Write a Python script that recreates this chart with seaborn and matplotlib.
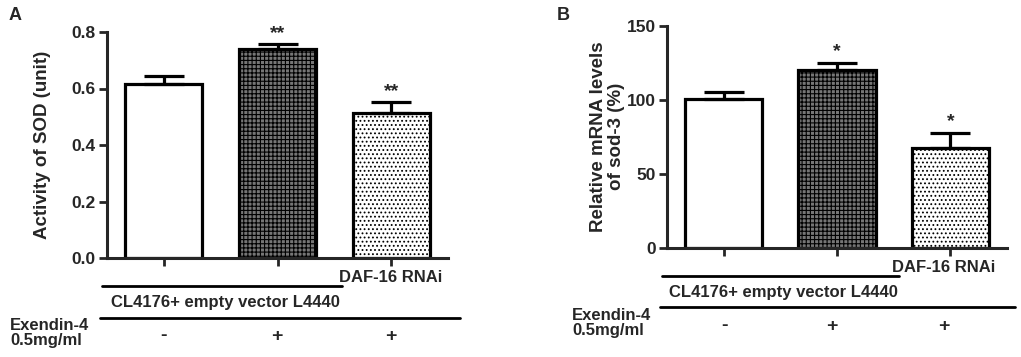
import matplotlib
matplotlib.use("Agg")
import matplotlib.pyplot as plt
from matplotlib.lines import Line2D
import seaborn as sns
import pandas as pd

# ---------------- data ----------------
groups = ["Control", "Exendin-4", "DAF-16 RNAi + Exendin-4"]
sod_mean = [0.617, 0.740, 0.515]
sod_err = [0.027, 0.016, 0.036]
mrna_mean = [100.3, 120.0, 67.7]
mrna_err = [4.8, 5.0, 10.0]
stars_a = ["", "**", "**"]
stars_b = ["", "*", "*"]
exendin_signs = ["-", "+", "+"]
sod_ticks = [0.0, 0.2, 0.4, 0.6, 0.8]
mrna_ticks = [0, 50, 100, 150]

sns.set_theme(style="ticks")
plt.rcParams["font.family"] = ["Liberation Sans", "DejaVu Sans"]
plt.rcParams["font.weight"] = "bold"
plt.rcParams["hatch.linewidth"] = 0.8

W, H = 1021, 357
fig = plt.figure(figsize=(W / 100, H / 100), dpi=100)


def fx(px):
    return px / W


def fy(py):
    return 1 - py / H


face = ["white", "#767676", "white"]
hatches = [None, "++++", "...."]


def panel(rect, means, errs, stars, ticks, ylim, ylabel, fmt, label_x):
    ax = fig.add_axes(rect)
    df = pd.DataFrame({"group": groups, "value": means})
    sns.barplot(data=df, x="group", y="value", hue="group", order=groups,
                hue_order=groups, palette=dict(zip(groups, face)),
                width=0.68, errorbar=None, legend=False, ax=ax, saturation=1)
    for p, fc, h in zip(ax.patches, face, hatches):
        p.set_facecolor(fc)
        p.set_edgecolor("black")
        p.set_linewidth(2.3)
        if h:
            p.set_hatch(h)
    xs = list(range(len(groups)))
    ax.errorbar(xs, means, yerr=[[0] * len(errs), errs], fmt="none",
                ecolor="black", elinewidth=2.3, capsize=14.5, capthick=2.3,
                zorder=1)
    for x, m, e, s in zip(xs, means, errs, stars):
        if s:
            ax.annotate(s, (x, m + e), xytext=(0, 8), textcoords="offset points",
                        ha="center", va="center", fontsize=14,
                        fontweight="bold", annotation_clip=False)
    ax.set_xlim(-0.5, 2.5)
    ax.set_ylim(*ylim)
    ax.set_yticks(ticks)
    ax.set_yticklabels([fmt(t) for t in ticks], fontsize=12.5, fontweight="bold")
    ax.set_xticks(xs)
    ax.set_xticklabels([])
    ax.set_xlabel("")
    ax.set_ylabel(ylabel, fontsize=13.5, fontweight="bold", linespacing=1.05)
    ax.yaxis.set_label_coords(label_x, 0.5)
    for s in ["top", "right"]:
        ax.spines[s].set_visible(False)
    for s in ["left", "bottom"]:
        ax.spines[s].set_linewidth(2.2)
    ax.tick_params(axis="both", width=2.0, length=6, direction="out", pad=2)
    return ax


axA = panel([fx(107), fy(258), fx(448) - fx(107), fy(32) - fy(258)],
            sod_mean, sod_err, stars_a, sod_ticks, (0, 0.8),
            "Activity of SOD (unit)", lambda t: f"{t:.1f}", -0.165)
axB = panel([fx(667), fy(248), fx(1007) - fx(667), fy(25.7) - fy(248)],
            mrna_mean, mrna_err, stars_b, mrna_ticks, (0, 150),
            "Relative mRNA levels\nof sod-3 (%)", lambda t: f"{t:d}", -0.125)

fig.text(fx(15), fy(16), "A", fontsize=13, fontweight="bold", ha="center", va="center")
fig.text(fx(563), fy(15), "B", fontsize=13, fontweight="bold", ha="center", va="center")


def annotations(x_centres, y_daf, short_line, y_short, y_cl, cl_x, long_line,
                y_long, ex_x, y_ex1, y_ex2, y_sign):
    fig.text(fx(x_centres[2]), fy(y_daf), "DAF-16 RNAi", fontsize=12,
             fontweight="bold", ha="center", va="center")
    fig.add_artist(Line2D([fx(short_line[0]), fx(short_line[1])],
                          [fy(y_short), fy(y_short)], color="black", lw=2.0))
    fig.text(fx(cl_x), fy(y_cl), "CL4176+ empty vector L4440", fontsize=12,
             fontweight="bold", ha="center", va="center")
    fig.add_artist(Line2D([fx(long_line[0]), fx(long_line[1])],
                          [fy(y_long), fy(y_long)], color="black", lw=2.0))
    fig.text(fx(ex_x), fy(y_ex1), "Exendin-4", fontsize=12, fontweight="bold",
             ha="left", va="center")
    fig.text(fx(ex_x), fy(y_ex2), "0.5mg/ml", fontsize=12, fontweight="bold",
             ha="left", va="center")
    for xc, s in zip(x_centres, exendin_signs):
        fig.text(fx(xc), fy(y_sign), s, fontsize=14, fontweight="bold",
                 ha="center", va="center")


annotations([163.5, 276.5, 390.5], 277, (102, 342), 286, 302, 225, (100, 460),
            317.5, 10, 325, 341, 336)
annotations([725, 832, 944], 267, (662, 899), 276, 292, 783, (660, 1015),
            307, 572, 315, 331, 326)

fig.savefig("out.png", dpi=100)
